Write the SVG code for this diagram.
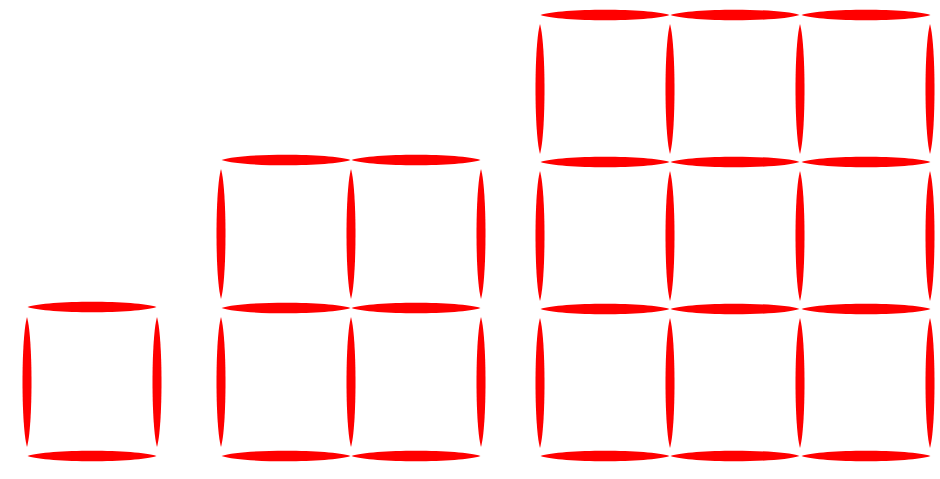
<svg xmlns="http://www.w3.org/2000/svg" xmlns:xlink="http://www.w3.org/1999/xlink" width="940" height="479" viewBox="0 0 940 479">
<style>
.m{fill:#ff0000;}
</style>
<defs>
<path id="h" class="m" d="M-64.5 0 C-44 -7 44 -7 64.5 0 C44 7 -44 7 -64.5 0 Z"/>
<path id="v" class="m" d="M0 -65 C-6 -44 -6 44 0 65 C6 44 6 -44 0 -65 Z"/>
</defs>
<rect width="940" height="479" fill="#ffffff"/>
<g id="fig1">
<use xlink:href="#h" x="92" y="307"/>
<use xlink:href="#h" x="92" y="456"/>
<use xlink:href="#v" x="27" y="382"/>
<use xlink:href="#v" x="157" y="382"/>
</g>
<g id="fig2">
<use xlink:href="#h" x="286" y="160"/>
<use xlink:href="#h" x="416" y="160"/>
<use xlink:href="#h" x="286" y="308"/>
<use xlink:href="#h" x="416" y="308"/>
<use xlink:href="#h" x="286" y="456"/>
<use xlink:href="#h" x="416" y="456"/>
<use xlink:href="#v" x="221" y="234"/>
<use xlink:href="#v" x="351" y="234"/>
<use xlink:href="#v" x="481" y="234"/>
<use xlink:href="#v" x="221" y="382"/>
<use xlink:href="#v" x="351" y="382"/>
<use xlink:href="#v" x="481" y="382"/>
</g>
<g id="fig3">
<use xlink:href="#h" x="605" y="15"/>
<use xlink:href="#h" x="735" y="15"/>
<use xlink:href="#h" x="866" y="15"/>
<use xlink:href="#h" x="605" y="162"/>
<use xlink:href="#h" x="735" y="162"/>
<use xlink:href="#h" x="866" y="162"/>
<use xlink:href="#h" x="605" y="309"/>
<use xlink:href="#h" x="735" y="309"/>
<use xlink:href="#h" x="866" y="309"/>
<use xlink:href="#h" x="605" y="456"/>
<use xlink:href="#h" x="735" y="456"/>
<use xlink:href="#h" x="866" y="456"/>
<use xlink:href="#v" x="540" y="89"/>
<use xlink:href="#v" x="670" y="89"/>
<use xlink:href="#v" x="800" y="89"/>
<use xlink:href="#v" x="930" y="89"/>
<use xlink:href="#v" x="540" y="236"/>
<use xlink:href="#v" x="670" y="236"/>
<use xlink:href="#v" x="800" y="236"/>
<use xlink:href="#v" x="930" y="236"/>
<use xlink:href="#v" x="540" y="383"/>
<use xlink:href="#v" x="670" y="383"/>
<use xlink:href="#v" x="800" y="383"/>
<use xlink:href="#v" x="930" y="383"/>
</g>
</svg>
